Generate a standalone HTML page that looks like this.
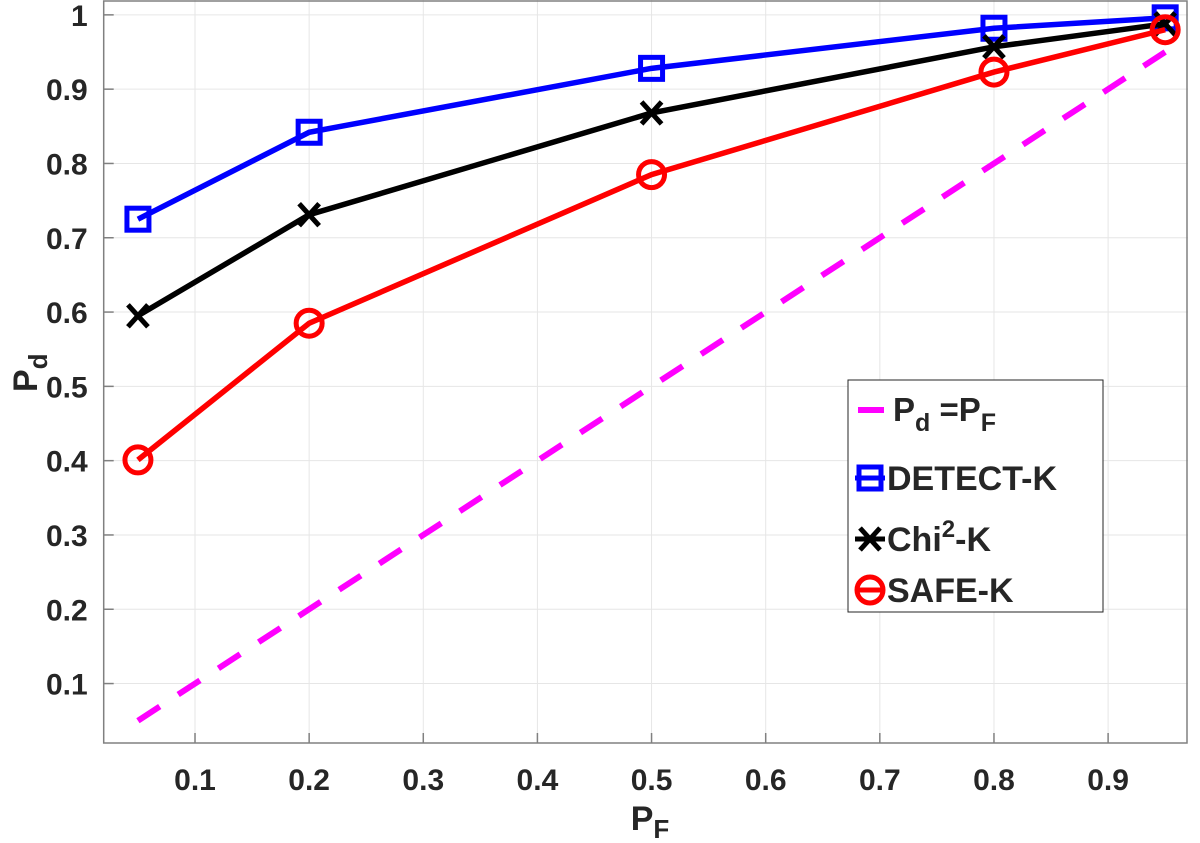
<!DOCTYPE html>
<html><head><meta charset="utf-8"><style>
body{margin:0;background:#fff}
text{font-family:"Liberation Sans",sans-serif;font-weight:bold;fill:#262626}
</style></head><body>
<svg id="c" width="1200" height="838" xmlns="http://www.w3.org/2000/svg"></svg>
<script>
const pf=[0.05,0.2,0.5,0.8,0.95];
const detect=[0.725,0.842,0.928,0.982,0.996];
const chi=[0.595,0.731,0.868,0.957,0.988];
const safe=[0.401,0.585,0.785,0.923,0.98];
const diag=[0.05,0.95];
const xticks=[0.1,0.2,0.3,0.4,0.5,0.6,0.7,0.8,0.9];
const yticks=[0.1,0.2,0.3,0.4,0.5,0.6,0.7,0.8,0.9,1];
const L=103.7,R=1188,T=0,B=743;
const X=v=>L+(v-0.02)/(0.95)*(R-L);
const Y=v=>B-(v-0.02)/(1.0)*(B-T);
const s=document.getElementById('c');const NS='http://www.w3.org/2000/svg';
function mk(t,a,p){const e=document.createElementNS(NS,t);for(const k in a)e.setAttribute(k,a[k]);(p||s).appendChild(e);return e;}
let g=mk('g',{});


xticks.forEach(v=>{mk('line',{x1:X(v),x2:X(v),y1:T,y2:B,stroke:'#e6e6e6','stroke-width':1},g);
mk('line',{x1:X(v),x2:X(v),y1:B,y2:B-10,stroke:'#808080','stroke-width':1.5},g);
const t=mk('text',{x:X(v),y:B+47,'text-anchor':'middle','font-size':30});t.textContent=v;

});
yticks.forEach(v=>{mk('line',{x1:L,x2:R,y1:Y(v),y2:Y(v),stroke:'#e6e6e6','stroke-width':1},g);
mk('line',{x1:L,x2:L+10,y1:Y(v),y2:Y(v),stroke:'#808080','stroke-width':1.5},g);
const t=mk('text',{x:L-16,y:Y(v)+11,'text-anchor':'end','font-size':30});t.textContent=v;

});
const ax=mk('rect',{x:L,y:T+1,width:R-L-1,height:B-T-1,fill:'none',stroke:'#808080','stroke-width':1.5});


const dl=mk('line',{x1:X(diag[0]),y1:Y(diag[0]),x2:X(diag[1]),y2:Y(diag[1]),stroke:'#ff00ff','stroke-width':6,'stroke-dasharray':'26 22'});


function marker(type,x,y,c,p){
 if(type==='sq')mk('rect',{x:x-11,y:y-11,width:22,height:22,fill:'none',stroke:c,'stroke-width':5},p);
 else if(type==='o')mk('circle',{cx:x,cy:y,r:13,fill:'none',stroke:c,'stroke-width':5},p);
 else{mk('path',{d:`M${x-10} ${y-11}L${x+10} ${y+11}M${x-10} ${y+11}L${x+10} ${y-11}`,stroke:c,'stroke-width':5},p);}
}
function series(vals,c,type,name){
 const gg=mk('g',{});
 
 
 mk('polyline',{points:pf.map((v,i)=>X(v)+','+Y(vals[i])).join(' '),fill:'none',stroke:c,'stroke-width':5.5},gg);
 pf.forEach((v,i)=>marker(type,X(v),Y(vals[i]),c,gg));
}
series(detect,'#0000ff','sq','detect-k-series');
series(chi,'#000000','x','chi2-k-series');
series(safe,'#ff0000','o','safe-k-series');
const lg=mk('g',{});


mk('rect',{x:848,y:380,width:255,height:232,fill:'#fff',stroke:'#262626','stroke-width':1},lg);
mk('line',{x1:858,x2:884,y1:410,y2:410,stroke:'#ff00ff','stroke-width':6},lg);
let t=mk('text',{x:893,y:421,'font-size':33},lg);t.innerHTML='P<tspan dy="10" font-size="25">d</tspan><tspan dy="-10"> =P</tspan><tspan dy="10" font-size="25">F</tspan>';
const ent=[[478,'#0000ff','sq','DETECT-K'],[539,'#000000','x','Chi'],[590,'#ff0000','o','SAFE-K']];
ent.forEach(e=>{mk('line',{x1:855,x2:885,y1:e[0],y2:e[0],stroke:e[1],'stroke-width':5},lg);marker(e[2],870,e[0],e[1],lg);
 const tt=mk('text',{x:887,y:e[0]+12,'font-size':34},lg);
 if(e[3]==='Chi')tt.innerHTML='Chi<tspan dy="-14" font-size="24">2</tspan><tspan dy="14">-K</tspan>';else tt.textContent=e[3];});
t=mk('text',{x:650,y:830,'text-anchor':'middle','font-size':34});t.innerHTML='P<tspan dy="8" font-size="26">F</tspan>';


t=mk('text',{x:0,y:0,'font-size':34,transform:'translate(37,392) rotate(-90)'});t.innerHTML='P<tspan dy="10" font-size="26">d</tspan>';


</script>
</body></html>
